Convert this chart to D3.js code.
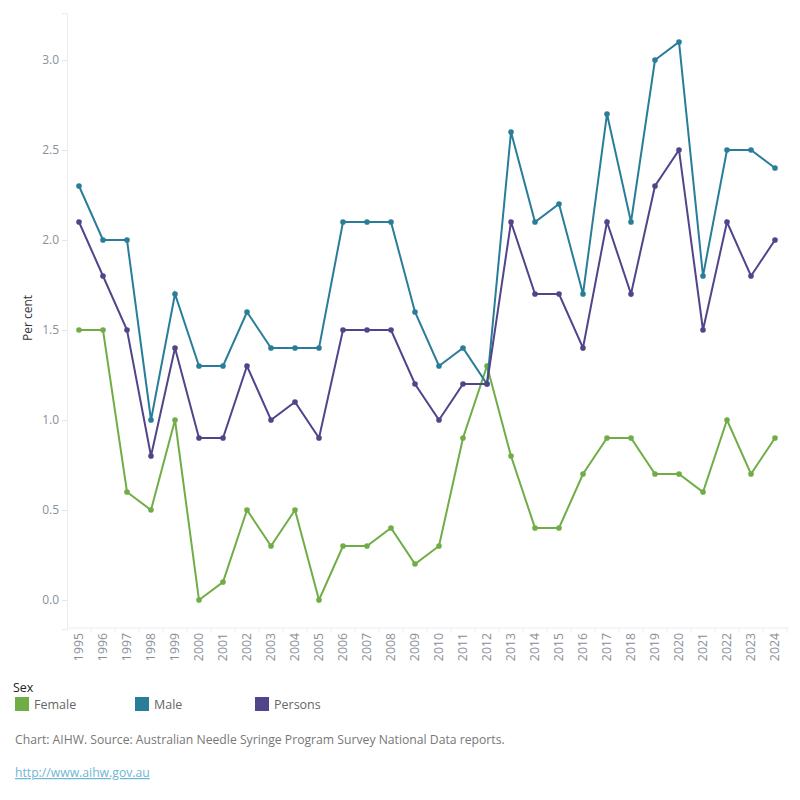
<!DOCTYPE html>
<html>
<head>
<meta charset="utf-8">
<script src="https://cdn.jsdelivr.net/npm/d3@7"></script>
<style>
  body { margin: 0; background: #fff; font-family: "Open Sans", "Noto Sans", sans-serif; }
  .tick text { fill: #8a8f99; }
</style>
</head>
<body>
<svg id="chart" width="800" height="800"></svg>
<script>
// data
var years = [1995, 1996, 1997, 1998, 1999, 2000, 2001, 2002, 2003, 2004, 2005, 2006, 2007, 2008, 2009,
  2010, 2011, 2012, 2013, 2014, 2015, 2016, 2017, 2018, 2019, 2020, 2021, 2022, 2023, 2024];
var female = [1.5, 1.5, 0.6, 0.5, 1.0, 0.0, 0.1, 0.5, 0.3, 0.5, 0.0, 0.3, 0.3, 0.4, 0.2,
  0.3, 0.9, 1.3, 0.8, 0.4, 0.4, 0.7, 0.9, 0.9, 0.7, 0.7, 0.6, 1.0, 0.7, 0.9];
var male = [2.3, 2.0, 2.0, 1.0, 1.7, 1.3, 1.3, 1.6, 1.4, 1.4, 1.4, 2.1, 2.1, 2.1, 1.6,
  1.3, 1.4, 1.2, 2.6, 2.1, 2.2, 1.7, 2.7, 2.1, 3.0, 3.1, 1.8, 2.5, 2.5, 2.4];
var persons = [2.1, 1.8, 1.5, 0.8, 1.4, 0.9, 0.9, 1.3, 1.0, 1.1, 0.9, 1.5, 1.5, 1.5, 1.2,
  1.0, 1.2, 1.2, 2.1, 1.7, 1.7, 1.4, 2.1, 1.7, 2.3, 2.5, 1.5, 2.1, 1.8, 2.0];
var yTicks = [0, 0.5, 1.0, 1.5, 2.0, 2.5, 3.0];
var seriesNames = ["Female", "Male", "Persons"];
var seriesColors = ["#70ad47", "#2a7d99", "#51448a"];

var svg = d3.select("#chart");
var plotLeft = 67, plotRight = 787, plotTop = 12, plotBottom = 628;

var x = d3.scaleBand().domain(years).range([plotLeft, plotRight]);
var y = d3.scaleLinear().domain([-0.161, 3.261]).range([plotBottom + 1, plotTop + 1]);

// y axis
var yAxis = svg.append("g")
  .attr("transform", "translate(" + plotLeft + ",0)")
  .call(d3.axisLeft(y).tickValues(yTicks).tickFormat(d3.format(".1f")).tickSize(5).tickPadding(3));
yAxis.select(".domain").attr("stroke", "#ececec");
yAxis.selectAll(".tick line").attr("stroke", "#e6e6e6");
yAxis.selectAll(".tick text").attr("font-size", 12).attr("font-family", "Open Sans, sans-serif");

// x axis: separators between bands, labels rotated
var xAxis = svg.append("g").attr("transform", "translate(0," + plotBottom + ")");
xAxis.append("line").attr("x1", plotLeft).attr("x2", plotRight + 1).attr("stroke", "#ececec");
xAxis.selectAll("line.sep")
  .data(years)
  .enter().append("line")
  .attr("class", "sep")
  .attr("x1", function (d) { return x(d) + x.bandwidth(); })
  .attr("x2", function (d) { return x(d) + x.bandwidth(); })
  .attr("y1", 0).attr("y2", 5)
  .attr("stroke", "#ececec");
xAxis.selectAll("text")
  .data(years)
  .enter().append("text")
  .attr("transform", function (d) {
    return "translate(" + (x(d) + x.bandwidth() / 2 + 4) + ",5) rotate(-90)";
  })
  .attr("text-anchor", "end")
  .attr("font-size", 12.3)
  .attr("fill", "#8a8f99")
  .text(function (d) { return d; });

svg.append("text")
  .attr("transform", "translate(32,318) rotate(-90)")
  .attr("text-anchor", "middle")
  .attr("font-size", 12)
  .attr("fill", "#333")
  .text("Per cent");

// lines and points
var allSeries = [female, male, persons];
var line = d3.line()
  .x(function (d, i) { return x(years[i]) + x.bandwidth() / 2; })
  .y(function (d) { return y(d); });

allSeries.forEach(function (vals, k) {
  var g = svg.append("g");
  g.append("path")
    .datum(vals)
    .attr("d", line)
    .attr("fill", "none")
    .attr("stroke", seriesColors[k])
    .attr("stroke-width", 2);
  g.selectAll("circle")
    .data(vals)
    .enter().append("circle")
    .attr("cx", function (d, i) { return x(years[i]) + x.bandwidth() / 2; })
    .attr("cy", function (d) { return y(d); })
    .attr("r", 2.8)
    .attr("fill", seriesColors[k]);
});

// legend
svg.append("text")
  .attr("x", 13).attr("y", 692)
  .attr("font-size", 12.5)
  .attr("fill", "#222")
  .text("Sex");

var legend = svg.selectAll("g.leg")
  .data(seriesNames)
  .enter().append("g")
  .attr("class", "leg")
  .attr("transform", function (d, i) { return "translate(" + (15 + i * 120) + ",697)"; });
legend.append("rect")
  .attr("width", 14).attr("height", 14)
  .attr("fill", function (d, i) { return seriesColors[i]; });
legend.append("text")
  .attr("x", 19).attr("y", 12)
  .attr("font-size", 12.5)
  .attr("fill", "#666")
  .text(function (d) { return d; });

svg.append("text")
  .attr("x", 15).attr("y", 744)
  .attr("font-size", 12.2)
  .attr("fill", "#777")
  .text("Chart: AIHW. Source: Australian Needle Syringe Program Survey National Data reports.");

svg.append("text")
  .attr("x", 15).attr("y", 777)
  .attr("font-size", 12.2)
  .attr("fill", "#6fb6d6")
  .attr("text-decoration", "underline")
  .text("http://www.aihw.gov.au");
</script>
</body>
</html>
